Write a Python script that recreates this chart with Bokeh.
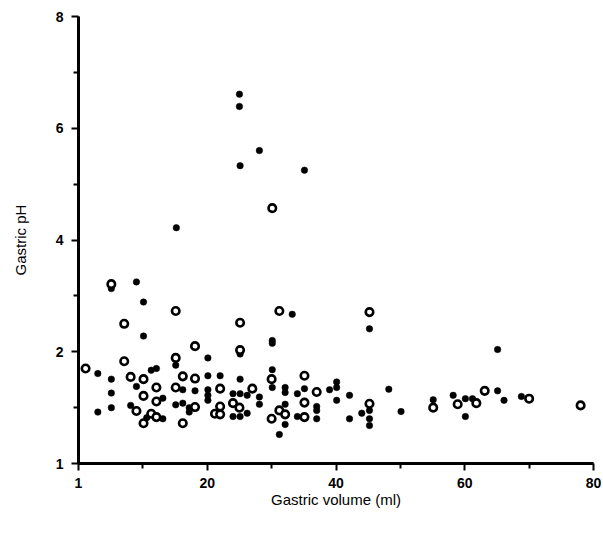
from bokeh.plotting import figure
from bokeh.models import FixedTicker, Range1d, PrintfTickFormatter, Span
from bokeh.embed import file_html
from bokeh.resources import INLINE

# Open circles
circle_x = [5.1, 7.1, 7.1, 1.1, 8.1, 10.1, 12.1, 10.1, 12.1, 9.0, 11.3, 10.1, 12.1,
            15.1, 25.1, 18.1, 25.1, 15.1, 16.2, 18.1, 15.1, 22.0, 27.0, 18.1, 22.0, 24.0,
            21.2, 22.0, 25.0, 16.2,
            30.1, 31.2, 30.0, 35.1, 37.0, 35.1, 31.2, 32.1, 30.0, 35.1,
            45.2, 45.2, 55.1, 58.9, 61.8, 63.1, 70.0, 78.0]
circle_y = [3.21, 2.50, 1.83, 1.70, 1.55, 1.51, 1.36, 1.21, 1.11, 0.94, 0.89, 0.72, 0.83,
            2.73, 2.52, 2.10, 2.03, 1.89, 1.56, 1.52, 1.36, 1.34, 1.34, 1.01, 1.02, 1.08,
            0.89, 0.88, 1.00, 0.72,
            4.57, 2.73, 1.51, 1.57, 1.28, 1.09, 0.95, 0.88, 0.80, 0.83,
            2.71, 1.07, 1.00, 1.06, 1.08, 1.30, 1.16, 1.04]

# Filled dots
dot_x = [5.1, 9.0, 10.1, 10.1, 3.0, 5.1, 5.1, 5.1, 3.0, 9.0, 11.3, 12.1, 13.1, 8.1, 13.1, 10.6,
         15.2, 25.0, 25.0, 28.1, 25.1, 35.1,
         15.1, 20.1, 20.1, 22.0, 25.1, 16.2, 18.1, 20.1, 20.1, 20.1, 24.0, 25.1, 26.2, 28.1,
         28.1, 15.1, 16.2, 17.2, 17.2, 24.0, 26.2, 25.1, 25.1,
         33.2, 30.1, 30.1, 30.1, 30.1, 32.1, 32.1, 34.0, 35.1, 39.0, 40.1, 40.1, 40.1, 42.1,
         32.1, 37.0, 37.0, 37.0, 32.1, 31.2, 34.0, 42.1, 44.0,
         45.2, 48.2, 45.2, 45.2, 45.2, 50.1, 55.1, 58.2, 60.1, 60.1, 65.1, 65.1, 66.1, 61.2, 68.8]
dot_y = [3.13, 3.25, 2.89, 2.28, 1.61, 1.51, 1.26, 1.00, 0.92, 1.38, 1.67, 1.70, 1.17, 1.04, 0.80, 0.82,
         4.22, 6.61, 6.39, 5.60, 5.33, 5.25,
         1.76, 1.89, 1.57, 1.57, 1.51, 1.32, 1.30, 1.32, 1.22, 1.13, 1.25, 1.25, 1.22, 1.19,
         1.06, 1.05, 1.08, 1.00, 0.92, 0.84, 0.90, 0.84, 1.96,
         2.67, 2.20, 2.15, 1.68, 1.36, 1.36, 1.27, 1.25, 1.34, 1.32, 1.46, 1.36, 1.13, 1.22,
         1.06, 1.02, 0.95, 0.80, 0.70, 0.52, 0.84, 0.80, 0.90,
         2.41, 1.33, 0.95, 0.80, 0.68, 0.93, 1.14, 1.22, 1.16, 0.84, 2.04, 1.30, 1.13, 1.16, 1.20]

x_major = [0, 20, 40, 60, 80]
x_minor = [10, 30, 50, 70]
y_major = [0, 2, 4, 6, 8]
y_minor = [1, 3, 5, 7]

# a tick placed at exactly 0 seems to stop the axis rule/ticks from drawing here,
# so the zero tick is nudged by a negligible amount (label still prints "0")
def nudge(ticks):
    return [t if t != 0 else 1e-9 for t in ticks]

p = figure(width=603, height=530, output_backend="svg", toolbar_location=None,
           x_range=Range1d(0, 80), y_range=Range1d(0, 8),
           min_border_left=78, min_border_right=10, min_border_top=16, min_border_bottom=67)
p.outline_line_color = None
p.xgrid.visible = False
p.ygrid.visible = False

p.scatter(dot_x, dot_y, marker="circle", size=6.5, fill_color="black", line_color="black", line_width=0.5)
p.scatter(circle_x, circle_y, marker="circle", size=7.5, fill_color="white", line_color="black", line_width=2.6)

# axis rules as spans along the frame edges
p.add_layout(Span(location=0, dimension="height", line_color="black", line_width=3))
p.add_layout(Span(location=0, dimension="width", line_color="black", line_width=3))

FONT = "Liberation Sans"
p.xaxis.ticker = FixedTicker(ticks=nudge(x_major), minor_ticks=x_minor)
p.yaxis.ticker = FixedTicker(ticks=nudge(y_major), minor_ticks=y_minor)
p.axis.formatter = PrintfTickFormatter(format="%d")
p.axis.axis_line_width = 3
p.axis.axis_line_color = "#000000"
p.axis.major_tick_line_width = 2
p.axis.minor_tick_line_width = 2
p.axis.major_tick_line_color = "#000000"
p.axis.minor_tick_line_color = "#000000"
p.axis.major_tick_in = 0
p.axis.major_tick_out = 7
p.axis.minor_tick_in = 0
p.axis.minor_tick_out = 5
p.axis.major_label_text_font = FONT
p.axis.major_label_text_font_style = "bold"
p.axis.major_label_text_font_size = "14px"
p.axis.major_label_text_color = "black"
p.axis.axis_label_text_font = FONT
p.axis.axis_label_text_font_style = "normal"
p.axis.axis_label_text_font_size = "15px"
p.axis.axis_label_text_color = "black"

p.xaxis.axis_label = "Gastric volume (ml)"
p.yaxis.axis_label = "Gastric pH"
p.xaxis.major_label_standoff = 7
p.yaxis.major_label_standoff = 8
p.xaxis.axis_label_standoff = 0
p.yaxis.axis_label_standoff = 24

open("out.html", "w").write(file_html(p, INLINE))
